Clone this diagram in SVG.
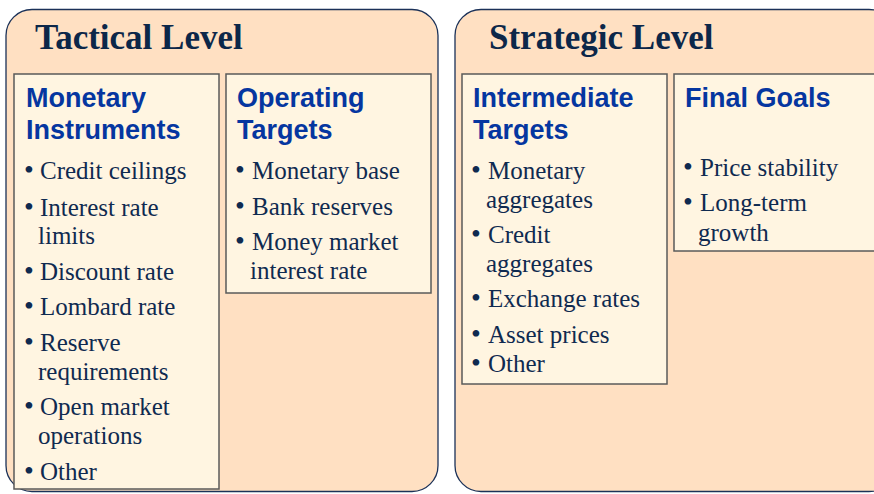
<svg xmlns="http://www.w3.org/2000/svg" width="874" height="494" viewBox="0 0 874 494">
  <style>
    .panel { fill: #FFE0C2; stroke: #1B3158; stroke-width: 1.3; }
    .box { fill: #FFF5E1; stroke: #5A5A5A; stroke-width: 1.5; }
    .title { font-family: "Liberation Serif", "Times New Roman", serif; font-weight: bold; font-size: 35px; fill: #0C2749; }
    .head { font-family: "Liberation Sans", Arial, sans-serif; font-weight: bold; font-size: 27px; fill: #0536A0; }
    .item { font-family: "Liberation Serif", "Times New Roman", serif; font-size: 25px; fill: #0F2A50; }
    .dot { font-family: "Liberation Serif", "Times New Roman", serif; font-size: 28px; fill: #0F2A50; }
  </style>

  <!-- Tactical level panel -->
  <g id="tactical-level">
    <rect class="panel" x="6" y="9.5" width="432" height="482" rx="26" ry="26"/>
    <text class="title" x="35" y="49">Tactical Level</text>
  </g>

  <!-- Strategic level panel -->
  <g id="strategic-level">
    <rect class="panel" x="455" y="9.5" width="440" height="482" rx="26" ry="26"/>
    <text class="title" x="489" y="49">Strategic Level</text>
  </g>

  <g id="monetary-instruments">
    <rect class="box" x="14" y="74" width="205" height="415"/>
    <text class="head" x="26" y="107">Monetary</text>
    <text class="head" x="26" y="139">Instruments</text>
    <g class="dot">
      <text x="24" y="179">•</text>
      <text x="24" y="216">•</text>
      <text x="24" y="280">•</text>
      <text x="24" y="315">•</text>
      <text x="24" y="351">•</text>
      <text x="24" y="415">•</text>
      <text x="24" y="480">•</text>
    </g>
    <g class="item">
      <text x="40" y="179">Credit ceilings</text>
      <text x="40" y="216">Interest rate</text>
      <text x="38" y="244">limits</text>
      <text x="40" y="280">Discount rate</text>
      <text x="40" y="315">Lombard rate</text>
      <text x="40" y="351">Reserve</text>
      <text x="38" y="380">requirements</text>
      <text x="40" y="415">Open market</text>
      <text x="38" y="444">operations</text>
      <text x="40" y="480">Other</text>
    </g>
  </g>

  <g id="operating-targets">
    <rect class="box" x="226" y="74" width="205" height="219"/>
    <text class="head" x="237" y="107">Operating</text>
    <text class="head" x="237" y="139">Targets</text>
    <g class="dot">
      <text x="235" y="179">•</text>
      <text x="235" y="215">•</text>
      <text x="235" y="250">•</text>
    </g>
    <g class="item">
      <text x="252" y="179">Monetary base</text>
      <text x="252" y="215">Bank reserves</text>
      <text x="252" y="250">Money market</text>
      <text x="250" y="279">interest rate</text>
    </g>
  </g>

  <g id="intermediate-targets">
    <rect class="box" x="462" y="74" width="205" height="310"/>
    <text class="head" x="473" y="107">Intermediate</text>
    <text class="head" x="473" y="139">Targets</text>
    <g class="dot">
      <text x="471" y="179">•</text>
      <text x="471" y="243">•</text>
      <text x="471" y="307">•</text>
      <text x="471" y="343">•</text>
      <text x="471" y="372">•</text>
    </g>
    <g class="item">
      <text x="488" y="179">Monetary</text>
      <text x="486" y="208">aggregates</text>
      <text x="488" y="243">Credit</text>
      <text x="486" y="272">aggregates</text>
      <text x="488" y="307">Exchange rates</text>
      <text x="488" y="343">Asset prices</text>
      <text x="488" y="372">Other</text>
    </g>
  </g>

  <g id="final-goals">
    <rect class="box" x="674" y="74" width="215" height="177"/>
    <text class="head" x="685" y="107">Final Goals</text>
    <g class="dot">
      <text x="683" y="176">•</text>
      <text x="683" y="211">•</text>
    </g>
    <g class="item">
      <text x="700" y="176">Price stability</text>
      <text x="700" y="211">Long-term</text>
      <text x="698" y="241">growth</text>
    </g>
  </g>
</svg>
